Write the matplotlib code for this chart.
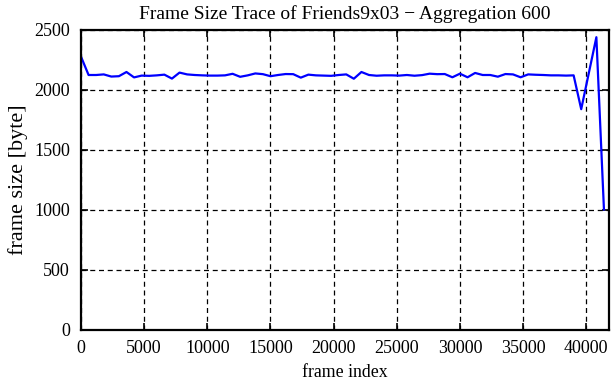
import matplotlib
matplotlib.use("Agg")
import matplotlib.pyplot as plt
import numpy as np

# aggregated frame sizes, one point every 600 frames
frame_index = np.arange(0, 41401, 600)
frame_size = [2278, 2125, 2125, 2130, 2112, 2115, 2150, 2105, 2120, 2118,
              2122, 2128, 2095, 2145, 2130, 2125, 2122, 2120, 2120, 2122,
              2135, 2110, 2122, 2138, 2132, 2115, 2125, 2133, 2132, 2103,
              2128, 2122, 2120, 2118, 2125, 2130, 2094, 2150, 2125, 2119,
              2122, 2122, 2120, 2125, 2119, 2124, 2136, 2132, 2133, 2106,
              2136, 2106, 2142, 2125, 2125, 2111, 2133, 2130, 2106, 2130,
              2127, 2125, 2122, 2122, 2120, 2122, 1840, 2140, 2440, 1005]

xticks = np.arange(0, 40001, 5000)
yticks = np.arange(0, 2501, 500)

plt.rcParams['font.family'] = ['Liberation Serif', 'DejaVu Serif']
plt.rcParams['font.size'] = 13

fig = plt.figure(figsize=(6.11, 3.80), dpi=100)
ax = fig.add_axes([81/611, 50/380, 528/611, 300/380])

ax.plot(frame_index, frame_size, color='#0000ff', lw=1.6)

ax.set_xlim(0, 41800)
ax.set_ylim(0, 2500)
ax.set_xticks(xticks)
ax.set_yticks(yticks)
ax.grid(True, color='black', ls=(0, (4, 3)), lw=0.9)
ax.tick_params(direction='in', length=5, width=1.2, top=True, right=True)
ax.tick_params(axis='y', pad=8)
ax.tick_params(axis='x', pad=7)
for s in ax.spines.values():
    s.set_linewidth(1.6)

ax.set_title('Frame Size Trace of Friends9x03 \u2212 Aggregation 600', fontsize=14, pad=8)
ax.set_xlabel('frame index', fontsize=12.8, labelpad=5)
ax.set_ylabel('frame size [byte]', fontsize=16, labelpad=4)

fig.savefig('out.png', dpi=100)
